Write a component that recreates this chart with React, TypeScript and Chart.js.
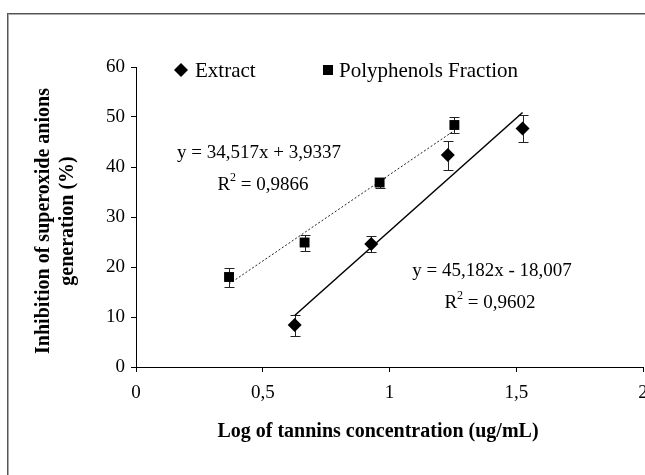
import React, { useEffect, useRef } from 'react';
import { Chart, registerables } from 'chart.js';

Chart.register(...registerables);

// ---- data ----
const extractX = [0.626, 0.928, 1.23, 1.525];
const extractY = [8.4, 24.6, 42.4, 47.7];
const extractErr = [2.1, 1.5, 2.9, 2.7];

const polyX = [0.367, 0.665, 0.961, 1.256];
const polyY = [18.0, 24.9, 36.9, 48.4];
const polyErr = [1.9, 1.6, 1.0, 1.6];

// trendline end points (as drawn)
const extractTrendX = [0.626, 1.525];
const extractTrendY = [10.3, 50.9];
const polyTrendX = [0.367, 1.256];
const polyTrendY = [16.6, 47.3];

const xTickValues = [0, 0.5, 1, 1.5, 2];
const xTickLabels = ['0', '0,5', '1', '1,5', '2'];
const yTickValues = [0, 10, 20, 30, 40, 50, 60];

const legendLabels = ['Extract', 'Polyphenols Fraction'];
const polyEquation = 'y = 34,517x + 3,9337';
const polyR2 = '0,9866';
const extractEquation = 'y = 45,182x - 18,007';
const extractR2 = '0,9602';
const xTitle = 'Log of tannins concentration (ug/mL)';
const yTitleLines = ['Inhibition of superoxide anions', 'generation (%)'];

const FONT = '"Liberation Serif", "Times New Roman", Times, serif';
const CANVAS_W = 665;
const CANVAS_H = 475;

function drawR2(ctx: CanvasRenderingContext2D, cx: number, cy: number, value: string, size: number) {
  const mainFont = `${size}px ${FONT}`;
  const supFont = `${Math.round(size * 0.62)}px ${FONT}`;
  ctx.font = mainFont;
  const wR = ctx.measureText('R').width;
  const rest = ' = ' + value;
  const wRest = ctx.measureText(rest).width;
  ctx.font = supFont;
  const wSup = ctx.measureText('2').width;
  const total = wR + wSup + wRest;
  let x = cx - total / 2;
  ctx.textAlign = 'left';
  ctx.textBaseline = 'middle';
  ctx.font = mainFont;
  ctx.fillText('R', x, cy);
  x += wR;
  ctx.font = supFont;
  ctx.fillText('2', x, cy - size * 0.38);
  x += wSup;
  ctx.font = mainFont;
  ctx.fillText(rest, x, cy);
}

const overlay = {
  id: 'overlay',
  beforeDraw(chart: any) {
    const ctx = chart.ctx as CanvasRenderingContext2D;
    ctx.save();
    ctx.fillStyle = '#ffffff';
    ctx.fillRect(0, 0, chart.width, chart.height);
    // outer frame (top and left visible)
    ctx.fillStyle = '#555555';
    ctx.fillRect(7, 13, chart.width, 1);
    ctx.fillRect(7, 13, 1, chart.height);
    ctx.fillStyle = '#aaaaaa';
    ctx.fillRect(8, 14, chart.width, 1);
    ctx.fillRect(8, 14, 1, chart.height);
    ctx.restore();
  },
  beforeDatasetsDraw(chart: any) {
    const ctx = chart.ctx as CanvasRenderingContext2D;
    const xs = chart.scales.x;
    const ys = chart.scales.y;
    ctx.save();
    ctx.strokeStyle = '#222222';
    ctx.lineWidth = 1;
    const series: [number[], number[], number[]][] = [
      [extractX, extractY, extractErr],
      [polyX, polyY, polyErr],
    ];
    series.forEach(([xv, yv, ev]) => {
      xv.forEach((xval, i) => {
        const px = Math.round(xs.getPixelForValue(xval)) + 0.5;
        const top = Math.round(ys.getPixelForValue(yv[i] + ev[i])) + 0.5;
        const bot = Math.round(ys.getPixelForValue(yv[i] - ev[i])) + 0.5;
        ctx.beginPath();
        ctx.moveTo(px, top);
        ctx.lineTo(px, bot);
        ctx.moveTo(px - 5, top);
        ctx.lineTo(px + 5, top);
        ctx.moveTo(px - 5, bot);
        ctx.lineTo(px + 5, bot);
        ctx.stroke();
      });
    });
    ctx.restore();
  },
  afterDraw(chart: any) {
    const ctx = chart.ctx as CanvasRenderingContext2D;
    const area = chart.chartArea;
    ctx.save();
    ctx.fillStyle = '#000000';

    // legend
    const ly = 70;
    ctx.beginPath();
    ctx.moveTo(181, ly - 7);
    ctx.lineTo(188, ly);
    ctx.lineTo(181, ly + 7);
    ctx.lineTo(174, ly);
    ctx.closePath();
    ctx.fill();
    ctx.fillRect(323, ly - 5, 10, 10);
    ctx.font = `21px ${FONT}`;
    ctx.textAlign = 'left';
    ctx.textBaseline = 'middle';
    ctx.fillText(legendLabels[0], 195, ly + 1);
    ctx.fillText(legendLabels[1], 339, ly + 1);

    // equations
    ctx.font = `19px ${FONT}`;
    ctx.textAlign = 'center';
    ctx.fillText(polyEquation, 259, 153);
    drawR2(ctx, 263, 185, polyR2, 19);
    ctx.font = `19px ${FONT}`;
    ctx.textAlign = 'center';
    ctx.fillText(extractEquation, 492, 271);
    drawR2(ctx, 490, 303, extractR2, 19);

    // axis titles
    ctx.font = `bold 20px ${FONT}`;
    ctx.textAlign = 'center';
    ctx.textBaseline = 'middle';
    ctx.fillText(xTitle, 378, 432);
    const cy = (area.top + area.bottom) / 2 + 4;
    ctx.translate(44, cy);
    ctx.rotate(-Math.PI / 2);
    ctx.fillText(yTitleLines[0], 0, 0);
    ctx.fillText(yTitleLines[1], 0, 24);
    ctx.restore();
  },
};

export default function App() {
  const ref = useRef<HTMLCanvasElement | null>(null);

  useEffect(() => {
    if (!ref.current) return;
    const chart = new Chart(ref.current, {
      type: 'scatter',
      data: {
        datasets: [
          {
            label: legendLabels[0],
            data: extractX.map((x, i) => ({ x, y: extractY[i] })),
            pointStyle: 'rectRot',
            pointRadius: 7,
            backgroundColor: '#000000',
            borderColor: '#000000',
            borderWidth: 0,
          },
          {
            label: legendLabels[1],
            data: polyX.map((x, i) => ({ x, y: polyY[i] })),
            pointStyle: 'rect',
            pointRadius: 7,
            backgroundColor: '#000000',
            borderColor: '#000000',
            borderWidth: 0,
          },
          {
            label: 'extract trend',
            data: extractTrendX.map((x, i) => ({ x, y: extractTrendY[i] })),
            showLine: true,
            pointRadius: 0,
            borderColor: '#000000',
            borderWidth: 1.5,
          },
          {
            label: 'poly trend',
            data: polyTrendX.map((x, i) => ({ x, y: polyTrendY[i] })),
            showLine: true,
            pointRadius: 0,
            borderColor: '#222222',
            borderWidth: 1,
            borderDash: [2, 2],
          },
        ],
      },
      options: {
        animation: false,
        responsive: false,
        devicePixelRatio: 1,
        layout: { padding: { left: 0, top: 67, right: CANVAS_W - 643, bottom: 0 } },
        plugins: { legend: { display: false }, tooltip: { enabled: false } },
        scales: {
          x: {
            type: 'linear',
            min: 0,
            max: 2,
            afterBuildTicks: (s: any) => {
              s.ticks = xTickValues.map((v) => ({ value: v }));
            },
            afterFit: (s: any) => {
              s.height = 108;
              s.paddingLeft = 0;
              s.paddingRight = 0;
            },
            grid: { drawOnChartArea: false, tickLength: 5, color: '#000000' },
            border: { display: true, color: '#000000', width: 1 },
            ticks: {
              color: '#000000',
              padding: 10,
              maxRotation: 0,
              autoSkip: false,
              font: { family: FONT, size: 19 },
              callback: (_v: any, i: number) => xTickLabels[i],
            },
          },
          y: {
            type: 'linear',
            min: 0,
            max: 60,
            afterBuildTicks: (s: any) => {
              s.ticks = yTickValues.map((v) => ({ value: v }));
            },
            afterFit: (s: any) => {
              s.width = 136;
              s.paddingTop = 0;
              s.paddingBottom = 0;
            },
            grid: { drawOnChartArea: false, tickLength: 5, color: '#000000' },
            border: { display: true, color: '#000000', width: 1 },
            ticks: {
              color: '#000000',
              padding: 6,
              font: { family: FONT, size: 19 },
              callback: (v: any) => String(v),
            },
          },
        },
      },
      plugins: [overlay],
    });
    return () => chart.destroy();
  }, []);

  return (
    <div style={{ position: 'fixed', left: 0, top: 0, width: 645, height: 475, overflow: 'hidden', background: '#fff' }}>
      <canvas ref={ref} width={CANVAS_W} height={CANVAS_H} style={{ display: 'block', width: CANVAS_W, height: CANVAS_H }} />
    </div>
  );
}
